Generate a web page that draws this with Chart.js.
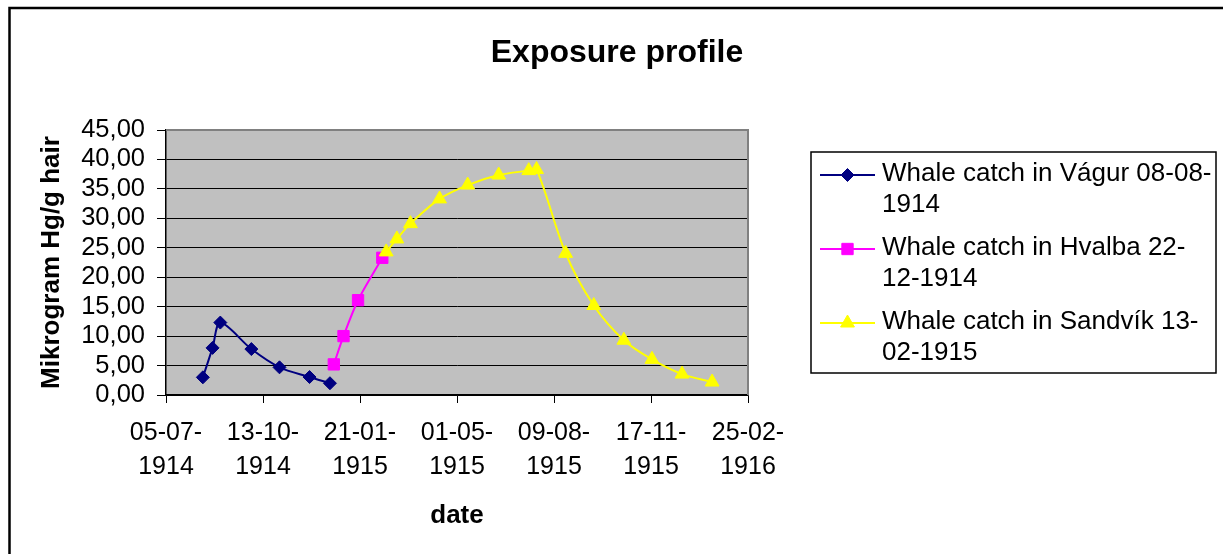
<!DOCTYPE html>
<html>
<head>
<meta charset="utf-8">
<script src="https://cdn.jsdelivr.net/npm/chart.js@4.4.1/dist/chart.umd.min.js"></script>
<style>
  html, body { margin: 0; padding: 0; background: #fff; }
  #wrap { width: 1223px; height: 554px; }
</style>
</head>
<body>
<div id="wrap"><canvas id="myChart"></canvas></div>
<script>
const FONT = '"Liberation Sans", Arial, sans-serif';

// x axis is days since the first tick date
const startDate = "1914-07-05";
const xTickStep = 100;
const xMaxDays = 600;
const yMax = 45;
const yTickStep = 5;

const vagurDates = ["1914-08-12", "1914-08-22", "1914-08-30", "1914-10-01", "1914-10-30", "1914-11-30", "1914-12-21"];
const vagurValues = [3.0, 8.0, 12.3, 7.8, 4.7, 3.05, 2.0];

const hvalbaDates = ["1914-12-25", "1915-01-04", "1915-01-19", "1915-02-13"];
const hvalbaValues = [5.2, 10.0, 16.1, 23.3];

const sandvikDates = ["1915-02-17", "1915-02-28", "1915-03-14", "1915-04-13", "1915-05-12", "1915-06-13", "1915-07-14",
  "1915-07-22", "1915-08-21", "1915-09-19", "1915-10-20", "1915-11-18", "1915-12-19", "1916-01-19"];
const sandvikValues = [24.3, 26.5, 29.1, 33.3, 35.65, 37.35, 38.1, 38.3, 24.05, 15.2, 9.3, 6.05, 3.55, 2.2];

const seriesNames = ["Whale catch in Vágur 08-08-1914", "Whale catch in Hvalba 22-12-1914", "Whale catch in Sandvík 13-02-1915"];
const legendLines = [
  ["Whale catch in Vágur 08-08-", "1914"],
  ["Whale catch in Hvalba 22-", "12-1914"],
  ["Whale catch in Sandvík 13-", "02-1915"],
];

const chartTitle = "Exposure profile";
const xTitle = "date";
const yTitle = "Mikrogram Hg/g hair";

const DAY = 86400000;
const toDays = (s) => Math.round((Date.parse(s) - Date.parse(startDate)) / DAY);
const pad2 = (n) => String(n).padStart(2, "0");

function tickDate(v) {
  const d = new Date(Date.parse(startDate) + v * DAY);
  return [pad2(d.getUTCDate()) + "-" + pad2(d.getUTCMonth() + 1) + "-", String(d.getUTCFullYear())];
}

function points(dates, values) {
  return dates.map((s, i) => ({ x: toDays(s), y: values[i] }));
}

const colors = ["#000080", "#FF00FF", "#FFFF00"];
const styles = [
  { pointStyle: "rectRot", radius: 6.5 },
  { pointStyle: "rect", radius: 8 },
  { pointStyle: "triangle", radius: 8 },
];

function makeDataset(i, data, order) {
  return {
    label: seriesNames[i],
    data: data,
    borderColor: colors[i],
    backgroundColor: colors[i],
    borderWidth: 2,
    pointStyle: styles[i].pointStyle,
    pointRadius: styles[i].radius,
    pointHoverRadius: styles[i].radius,
    pointBorderWidth: 1,
    pointBorderColor: colors[i],
    pointBackgroundColor: colors[i],
    tension: 0.3,
    fill: false,
    order: order,
  };
}

const frame = {
  id: "frame",
  beforeDraw(chart) {
    const { ctx, chartArea: a } = chart;
    ctx.save();
    ctx.fillStyle = "#C0C0C0";
    ctx.fillRect(a.left, a.top, a.right - a.left, a.bottom - a.top);
    ctx.restore();
  },
  beforeDatasetsDraw(chart) {
    const { ctx, chartArea: a } = chart;
    ctx.save();
    ctx.strokeStyle = "#808080";
    ctx.lineWidth = 2;
    ctx.beginPath();
    ctx.moveTo(a.left, a.top);
    ctx.lineTo(a.right, a.top);
    ctx.lineTo(a.right, a.bottom);
    ctx.stroke();
    ctx.restore();
  },
  afterDraw(chart) {
    const ctx = chart.ctx;
    ctx.save();
    // outer frame (only top and left are visible in the crop)
    ctx.strokeStyle = "#000";
    ctx.lineWidth = 2.5;
    ctx.beginPath();
    ctx.moveTo(9.5, chart.height);
    ctx.lineTo(9.5, 8);
    ctx.lineTo(chart.width, 8);
    ctx.stroke();

    // title
    ctx.fillStyle = "#000";
    ctx.font = "bold 32px " + FONT;
    ctx.textAlign = "center";
    ctx.textBaseline = "middle";
    ctx.fillText(chartTitle, 617, 53);

    // legend
    ctx.lineWidth = 1.5;
    ctx.strokeStyle = "#000";
    ctx.strokeRect(811, 152, 405, 221);
    const rowY = [175, 249, 323];
    ctx.font = "26px " + FONT;
    ctx.textAlign = "left";
    chart.data.datasets.forEach((ds, i) => {
      const y = rowY[i];
      ctx.strokeStyle = ds.borderColor;
      ctx.lineWidth = 2;
      ctx.beginPath();
      ctx.moveTo(820, y);
      ctx.lineTo(875, y);
      ctx.stroke();
      ctx.fillStyle = ds.pointBackgroundColor;
      ctx.strokeStyle = ds.pointBorderColor;
      ctx.lineWidth = 1;
      Chart.helpers.drawPoint(ctx, { pointStyle: ds.pointStyle, radius: ds.pointRadius, rotation: 0, borderWidth: 1 }, 847.5, y);
      ctx.fillStyle = "#000";
      legendLines[i].forEach((t, k) => ctx.fillText(t, 882, y - 1 + k * 31));
    });
    ctx.restore();
  },
};

const ctx = document.getElementById("myChart").getContext("2d");

const myChart = new Chart(ctx, {
  type: "line",
  data: {
    datasets: [
      makeDataset(0, points(vagurDates, vagurValues), 3),
      makeDataset(1, points(hvalbaDates, hvalbaValues), 2),
      makeDataset(2, points(sandvikDates, sandvikValues), 1),
    ],
  },
  options: {
    animation: false,
    responsive: true,
    maintainAspectRatio: false,
    layout: { padding: { left: 10, right: 475, top: 130, bottom: 0 } },
    plugins: {
      legend: { display: false },
      title: { display: false },
      tooltip: { enabled: false },
    },
    scales: {
      x: {
        type: "linear",
        min: 0,
        max: xMaxDays,
        afterFit: (s) => { s.height = 159; },
        ticks: {
          stepSize: xTickStep,
          autoSkip: false,
          maxRotation: 0,
          padding: 13,
          color: "#000",
          font: { family: FONT, size: 25, lineHeight: 1.36 },
          callback: (v) => tickDate(v),
        },
        grid: { drawOnChartArea: false, drawTicks: true, tickLength: 8, color: "#000" },
        border: { color: "#000", width: 1.5 },
        title: {
          display: true,
          text: xTitle,
          color: "#000",
          font: { family: FONT, size: 26, weight: "bold" },
          padding: { top: 0, bottom: 23 },
        },
      },
      y: {
        min: 0,
        max: yMax,
        afterFit: (s) => { s.width = 156; },
        ticks: {
          stepSize: yTickStep,
          autoSkip: false,
          padding: 12,
          color: "#000",
          font: { family: FONT, size: 25.5 },
          callback: (v) => v.toFixed(2).replace(".", ","),
        },
        grid: {
          color: (c) => (c.tick && c.tick.value === yMax ? "#808080" : "#000"),
          tickColor: "#000",
          tickLength: 9,
          lineWidth: 1,
        },
        border: { color: "#000", width: 1.5 },
        title: {
          display: true,
          text: yTitle,
          color: "#000",
          font: { family: FONT, size: 26, weight: "bold" },
          padding: { top: 26, bottom: 0 },
        },
      },
    },
  },
  plugins: [frame],
});
</script>
</body>
</html>
